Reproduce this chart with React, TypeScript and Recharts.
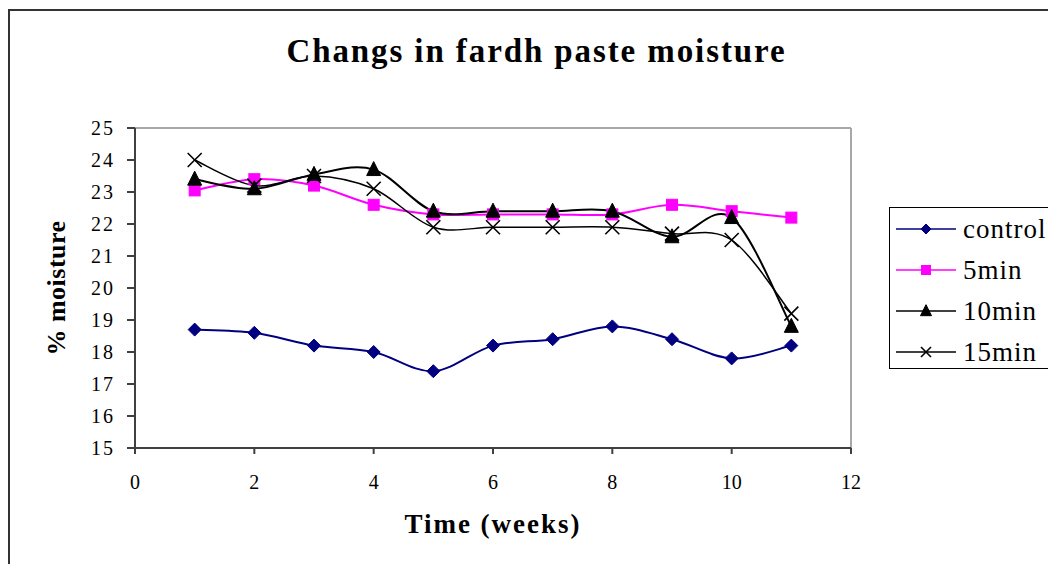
import React from 'react';
import { LineChart, Line, XAxis, YAxis, ReferenceLine, Legend, Label } from 'recharts';

const weeks = [1, 2, 3, 4, 5, 6, 7, 8, 9, 10, 11];
const control = [18.7, 18.6, 18.2, 18.0, 17.4, 18.2, 18.4, 18.8, 18.4, 17.8, 18.2];
const min5 = [23.05, 23.4, 23.2, 22.6, 22.3, 22.3, 22.3, 22.3, 22.6, 22.4, 22.2];
const min10 = [23.4, 23.1, 23.55, 23.7, 22.4, 22.4, 22.4, 22.4, 21.6, 22.2, 18.8];
const min15 = [24.0, 23.2, 23.5, 23.1, 21.9, 21.9, 21.9, 21.9, 21.7, 21.5, 19.2];
const seriesNames = ['control', '5min', '10min', '15min'];
const xTicks = [0, 2, 4, 6, 8, 10, 12];
const yTicks = [15, 16, 17, 18, 19, 20, 21, 22, 23, 24, 25];

const data = weeks.map((w, i) => ({
  week: w,
  control: control[i],
  m5: min5[i],
  m10: min10[i],
  m15: min15[i],
}));

const FONT = '"Liberation Serif", "Times New Roman", serif';

// Excel-like smoothing (Catmull-Rom as cubic Bezier)
const excelCurve: any = (context: any) => {
  let pts: number[][] = [];
  return {
    areaStart() {},
    areaEnd() {},
    lineStart() {
      pts = [];
    },
    point(x: number, y: number) {
      pts.push([+x, +y]);
    },
    lineEnd() {
      if (!pts.length) return;
      context.moveTo(pts[0][0], pts[0][1]);
      for (let i = 0; i < pts.length - 1; i++) {
        const p0 = pts[i - 1] || pts[i];
        const p1 = pts[i];
        const p2 = pts[i + 1];
        const p3 = pts[i + 2] || pts[i + 1];
        context.bezierCurveTo(
          p1[0] + (p2[0] - p0[0]) / 6,
          p1[1] + (p2[1] - p0[1]) / 6,
          p2[0] - (p3[0] - p1[0]) / 6,
          p2[1] - (p3[1] - p1[1]) / 6,
          p2[0],
          p2[1]
        );
      }
    },
  };
};

const Marker = ({ kind, cx, cy, s, color }: any) => {
  if (cx == null || cy == null) return null;
  if (kind === 'diamond') {
    return (
      <polygon
        points={`${cx},${cy - s} ${cx + s},${cy} ${cx},${cy + s} ${cx - s},${cy}`}
        fill={color}
        stroke={color}
      />
    );
  }
  if (kind === 'square') {
    return <rect x={cx - s} y={cy - s} width={2 * s} height={2 * s} fill={color} stroke={color} />;
  }
  if (kind === 'triangle') {
    return (
      <polygon
        points={`${cx},${cy - s * 1.15} ${cx + s},${cy + s * 0.85} ${cx - s},${cy + s * 0.85}`}
        fill={color}
        stroke={color}
      />
    );
  }
  return (
    <g stroke={color} strokeWidth={1.6}>
      <line x1={cx - s} y1={cy - s} x2={cx + s} y2={cy + s} />
      <line x1={cx - s} y1={cy + s} x2={cx + s} y2={cy - s} />
    </g>
  );
};

const seriesStyle = [
  { key: 'control', color: '#000080', kind: 'diamond', size: 6.5, width: 2 },
  { key: 'm5', color: '#FF00FF', kind: 'square', size: 5.5, width: 2 },
  { key: 'm10', color: '#000000', kind: 'triangle', size: 7, width: 2 },
  { key: 'm15', color: '#000000', kind: 'x', size: 7, width: 1.5 },
];

const legendMarkerSize = [5, 4.5, 5.5, 5];

const LegendBox = () => (
  <div
    style={{
      border: '1px solid #000',
      width: 200,
      height: 162,
      boxSizing: 'border-box',
      background: '#fff',
      fontFamily: FONT,
    }}
  >
    {seriesNames.map((name, i) => {
      const st = seriesStyle[i];
      return (
        <div
          key={name}
          style={{ position: 'absolute', left: 0, top: 22 + i * 41 - 16, height: 32, display: 'flex', alignItems: 'center' }}
        >
          <svg width={74} height={32} style={{ display: 'block' }}>
            <line x1={7} y1={16} x2={67} y2={16} stroke={st.color} strokeWidth={1.5} />
            <Marker kind={st.kind} cx={37} cy={16} s={legendMarkerSize[i]} color={st.color} />
          </svg>
          <span style={{ fontSize: 27, letterSpacing: 1, color: '#000', whiteSpace: 'nowrap', lineHeight: '32px' }}>
            {name}
          </span>
        </div>
      );
    })}
  </div>
);

export default function App() {
  return (
    <div
      style={{
        position: 'absolute',
        left: 0,
        top: 0,
        width: 1048,
        height: 564,
        overflow: 'hidden',
        background: '#fff',
      }}
    >
      <div
        style={{
          position: 'absolute',
          left: 8,
          top: 9,
          width: 1200,
          height: 700,
          border: '2px solid #333',
          boxSizing: 'border-box',
        }}
      />
      <div
        style={{
          position: 'absolute',
          left: 0,
          top: 32,
          width: 1048,
          textAlign: 'center',
          fontFamily: FONT,
          fontWeight: 'bold',
          fontSize: 33,
          letterSpacing: 1.9,
          lineHeight: '38px',
          paddingLeft: 25,
          boxSizing: 'border-box',
          color: '#000',
        }}
      >
        Changs in fardh paste moisture
      </div>
      <div style={{ position: 'absolute', left: 0, top: 0 }}>
        <LineChart
          width={1048}
          height={564}
          data={data}
          margin={{ top: 128, right: 197, bottom: 76, left: 0 }}
        >
          <XAxis
            dataKey="week"
            type="number"
            domain={[0, 12]}
            ticks={xTicks}
            interval={0}
            height={40}
            tickSize={6}
            tickMargin={21}
            stroke="#404040"
            strokeWidth={2}
            tick={{ fill: '#000', fontSize: 20, fontFamily: FONT }}
          >
            <Label
              value="Time (weeks)"
              position="center"
              dy={55}
              style={{ fontFamily: FONT, fontWeight: 'bold', fontSize: 27, letterSpacing: 2, fill: '#000' }}
            />
          </XAxis>
          <YAxis
            type="number"
            domain={[15, 25]}
            ticks={yTicks}
            interval={0}
            width={135}
            tickSize={8}
            tickMargin={12}
            stroke="#404040"
            strokeWidth={2}
            tick={{ fill: '#000', fontSize: 20, fontFamily: FONT, letterSpacing: 2 }}
          >
            <Label
              value="% moisture"
              position="center"
              angle={-90}
              dx={-12}
              style={{ fontFamily: FONT, fontWeight: 'bold', fontSize: 26, letterSpacing: 0.5, fill: '#000', textAnchor: 'middle' }}
            />
          </YAxis>
          <ReferenceLine y={25} stroke="#a8a8a8" strokeWidth={2} ifOverflow="extendDomain" />
          <ReferenceLine x={12} stroke="#a8a8a8" strokeWidth={2} ifOverflow="extendDomain" />
          {seriesStyle.map((st, i) => (
            <Line
              key={st.key}
              dataKey={st.key}
              name={seriesNames[i]}
              type={excelCurve}
              stroke={st.color}
              strokeWidth={st.width}
              isAnimationActive={false}
              dot={(p: any) => <Marker key={`${st.key}-${p.index}`} kind={st.kind} cx={p.cx} cy={p.cy} s={st.size} color={st.color} />}
              activeDot={false}
            />
          ))}
          <Legend
            layout="horizontal"
            verticalAlign="middle"
            align="center"
            content={() => <LegendBox />}
            wrapperStyle={{ position: 'absolute', left: 889, top: 207, width: 200, height: 162 }}
          />
        </LineChart>
      </div>
    </div>
  );
}
